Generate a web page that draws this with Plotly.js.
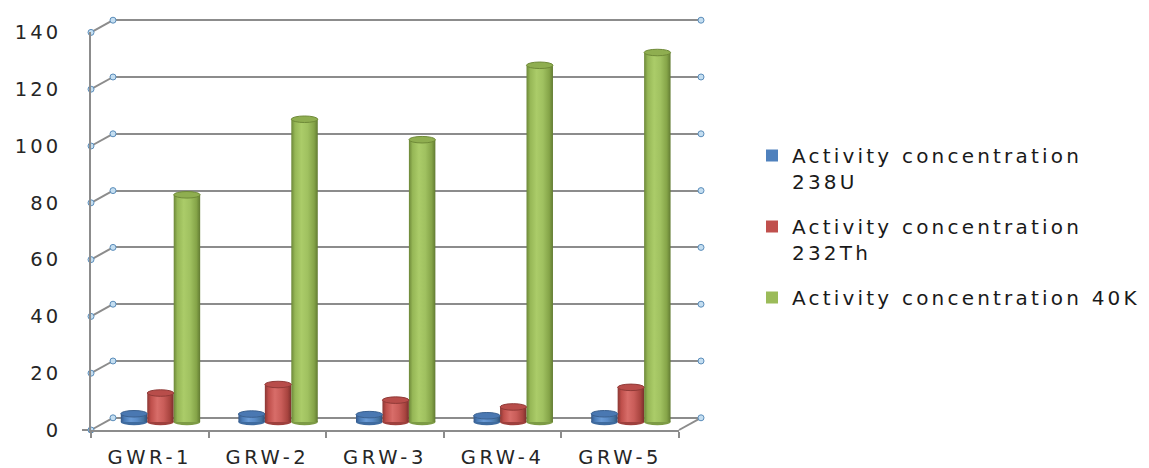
<!DOCTYPE html>
<html>
<head>
<meta charset="utf-8">
<script src="https://cdn.plot.ly/plotly-3.0.1.min.js"></script>
<style>
  html, body { margin: 0; padding: 0; background: #ffffff; }
  #chart { width: 1149px; height: 468px; }
  .xtick text { letter-spacing: 3.6px; }
  .ytick text { letter-spacing: 3px; }
  .legendtext { letter-spacing: 3.2px; }
</style>
</head>
<body>
<div id="chart"></div>
<script>
// Sampling points and activity concentrations
const categories = ['GWR-1', 'GRW-2', 'GRW-3', 'GRW-4', 'GRW-5'];
const u238  = [2.9, 2.8, 2.6, 2.2, 2.9];
const th232 = [10.2, 13.2, 7.7, 5.3, 12.2];
const k40   = [80.0, 106.6, 99.4, 125.6, 130.1];
const seriesNames = [
  'Activity concentration<br>238U',
  'Activity concentration<br>232Th',
  'Activity concentration 40K'
];
const yTicks = [0, 20, 40, 60, 80, 100, 120, 140];

// Page geometry (pixels) for the front plane, the back wall and the bar plane
const W = 1149, H = 468;
const px = x => x / W;
const py = y => (H - y) / H;
const FRONT = { x: [91, 679],   y0: 430,   y140: 32.4 };
const BACK  = { x: [113, 701],  y0: 417.8, y140: 20.2 };
const MIDX  = [101.5, 689.5];
const MID_Y0 = 422, SCALE = 2.84, MID_MIN = -5, YMAX = 140;
const BACK_TOP = 140.8;   // a little headroom so the 140 gridline is kept

const frontDomY = [py(FRONT.y0), py(FRONT.y140)];
const backDomY  = [py(BACK.y0), py(BACK.y140 - (BACK_TOP - YMAX) * SCALE)];
const midDomY   = [py(MID_Y0 - MID_MIN * SCALE), py(MID_Y0 - YMAX * SCALE)];

const idx = categories.map((_, i) => i);
const barW = 0.225;
const offsets = [-0.336, -0.111, 0.114];
const seriesData = [u238, th232, k40];
const baseColors = ['#4f81bd', '#c0504d', '#9bbb59'];
const capColors  = ['#4a78b2', '#b84d4a', '#8fae50'];
const rimColors  = ['#3b6190', '#903a37', '#6f8a38'];
const footColors = ['#3f6b9f', '#9e403d', '#7d9b45'];
const shades = [
  ['#35598a', '#4a7bb6', '#6a9bd6', '#5a8bc7', '#44729f', '#2f5079'],
  ['#8a3734', '#bf4f4b', '#d86d69', '#c95d59', '#a8443f', '#7a2f2c'],
  ['#6c8738', '#96b756', '#abcc69', '#a0c160', '#85a448', '#627b32']
];

const data = [];

// Cylinder bodies
seriesData.forEach((vals, s) => {
  data.push({
    type: 'bar', x: idx, y: vals, base: 0,
    offset: offsets[s], width: barW,
    xaxis: 'x3', yaxis: 'y3',
    name: seriesNames[s], legendgroup: 'g' + s,
    marker: { color: baseColors[s], line: { width: 0 } },
    hoverinfo: 'skip'
  });
});

// Small round markers at the ends of the gridlines
const dotStyle = { size: 6, color: '#c4def1', line: { color: '#5b8dba', width: 1 } };
const edges = [
  { x: -0.5, xa: 'x',  ya: 'y'  },
  { x: -0.5, xa: 'x2', ya: 'y2' },
  { x: 4.5,  xa: 'x2', ya: 'y2' }
];
edges.forEach(e => {
  data.push({
    type: 'scatter', mode: 'markers',
    x: yTicks.map(() => e.x), y: yTicks,
    xaxis: e.xa, yaxis: e.ya,
    marker: dotStyle, cliponaxis: false,
    showlegend: false, hoverinfo: 'skip'
  });
});

// Side-wall and floor edges joining the front plane to the back wall
const shapes = [];
const frontY = v => frontDomY[0] + v / YMAX * (frontDomY[1] - frontDomY[0]);
const backY  = v => backDomY[0] + v / BACK_TOP * (backDomY[1] - backDomY[0]);
const edgeLine = { color: '#8c8c8c', width: 2 };
yTicks.forEach(v => {
  shapes.push({ type: 'line', xref: 'paper', yref: 'paper',
    x0: px(FRONT.x[0]), y0: frontY(v), x1: px(BACK.x[0]), y1: backY(v),
    line: edgeLine, layer: 'below' });
});
shapes.push({ type: 'line', xref: 'paper', yref: 'paper',
  x0: px(FRONT.x[1]), y0: frontY(0), x1: px(BACK.x[1]), y1: backY(0),
  line: edgeLine, layer: 'below' });
// short stub left of the origin
shapes.push({ type: 'line', xref: 'paper', yref: 'paper',
  x0: px(FRONT.x[0] - 9), y0: frontY(0), x1: px(FRONT.x[0]), y1: frontY(0),
  line: edgeLine, layer: 'below' });

// Elliptical caps and feet of the cylinders
const capHalf = 1.15;
seriesData.forEach((vals, s) => {
  vals.forEach((v, i) => {
    const x0 = i + offsets[s], x1 = x0 + barW;
    shapes.push({ type: 'circle', xref: 'x3', yref: 'y3',
      x0: x0, x1: x1, y0: -capHalf, y1: capHalf,
      fillcolor: footColors[s], line: { width: 0 }, layer: 'between' });
    shapes.push({ type: 'circle', xref: 'x3', yref: 'y3',
      x0: x0, x1: x1, y0: v - capHalf, y1: v + capHalf,
      fillcolor: capColors[s], line: { color: rimColors[s], width: 1 }, layer: 'above' });
  });
});

const tickFont = { family: 'DejaVu Sans', size: 19.5, color: '#262626' };
const hidden = { visible: true, showgrid: false, zeroline: false, showline: false,
  showticklabels: false, ticks: '', fixedrange: true };

const layout = {
  width: W, height: H,
  margin: { l: 0, r: 0, t: 0, b: 0 },
  paper_bgcolor: '#ffffff', plot_bgcolor: 'rgba(0,0,0,0)',
  font: { family: 'DejaVu Sans', size: 20, color: '#1a1a1a' },
  barmode: 'overlay',
  showlegend: true,
  legend: {
    x: px(752), y: py(136), xanchor: 'left', yanchor: 'top',
    font: { family: 'DejaVu Sans', size: 20, color: '#1a1a1a' },
    valign: 'top', tracegroupgap: 16, traceorder: 'grouped',
    bgcolor: 'rgba(0,0,0,0)'
  },
  // front plane: axis lines and tick labels
  xaxis: {
    domain: [px(FRONT.x[0]), px(FRONT.x[1])], range: [-0.5, 4.5],
    tickvals: idx, ticktext: categories, ticks: '',
    tickfont: tickFont, ticklabelstandoff: 9,
    minor: { tickvals: [-0.5, 0.5, 1.5, 2.5, 3.5, 4.5], ticks: 'outside',
             ticklen: 6, tickwidth: 2, tickcolor: '#8c8c8c' },
    showline: true, linecolor: '#8c8c8c', linewidth: 2,
    showgrid: false, zeroline: false, anchor: 'y', fixedrange: true
  },
  yaxis: {
    domain: frontDomY, range: [0, YMAX],
    tickvals: yTicks, ticks: '', tickfont: tickFont, ticklabelstandoff: 24,
    showline: true, linecolor: '#8c8c8c', linewidth: 2,
    showgrid: false, zeroline: false, anchor: 'x', fixedrange: true
  },
  // back wall with the horizontal gridlines
  xaxis2: Object.assign({}, hidden, {
    domain: [px(BACK.x[0]), px(BACK.x[1])], range: [-0.5, 4.5], anchor: 'y2' }),
  yaxis2: Object.assign({}, hidden, {
    domain: backDomY, range: [0, BACK_TOP], tickvals: yTicks,
    showgrid: true, gridcolor: '#8c8c8c', gridwidth: 2,
    zeroline: true, zerolinecolor: '#8c8c8c', zerolinewidth: 2, anchor: 'x2' }),
  // plane through the middle of the floor that carries the cylinders
  xaxis3: Object.assign({}, hidden, {
    domain: [px(MIDX[0]), px(MIDX[1])], range: [-0.5, 4.5], anchor: 'y3' }),
  yaxis3: Object.assign({}, hidden, {
    domain: midDomY, range: [MID_MIN, YMAX], anchor: 'x3' }),
  shapes: shapes,
  hovermode: false
};

const gd = document.getElementById('chart');

// Horizontal shading that makes each bar read as a cylinder
function shadeBars() {
  const svg = gd.querySelector('svg.main-svg');
  if (!svg) return;
  let defs = svg.querySelector('defs#cyl-defs');
  if (!defs) {
    defs = document.createElementNS('http://www.w3.org/2000/svg', 'defs');
    defs.setAttribute('id', 'cyl-defs');
    shades.forEach((st, s) => {
      const g = document.createElementNS('http://www.w3.org/2000/svg', 'linearGradient');
      g.setAttribute('id', 'cyl' + s);
      g.setAttribute('x1', '0'); g.setAttribute('x2', '1');
      g.setAttribute('y1', '0'); g.setAttribute('y2', '0');
      const pos = [0, 0.14, 0.38, 0.62, 0.86, 1];
      st.forEach((c, k) => {
        const stop = document.createElementNS('http://www.w3.org/2000/svg', 'stop');
        stop.setAttribute('offset', pos[k]);
        stop.setAttribute('stop-color', c);
        g.appendChild(stop);
      });
      defs.appendChild(g);
    });
    svg.insertBefore(defs, svg.firstChild);
  }
  gd.querySelectorAll('.barlayer .trace').forEach((t, s) => {
    t.querySelectorAll('path').forEach(p => { p.style.fill = 'url(#cyl' + s + ')'; });
  });
}

Plotly.newPlot(gd, data, layout, { staticPlot: true, responsive: false }).then(() => {
  shadeBars();
  gd.on && gd.on('plotly_afterplot', shadeBars);
});
</script>
</body>
</html>
